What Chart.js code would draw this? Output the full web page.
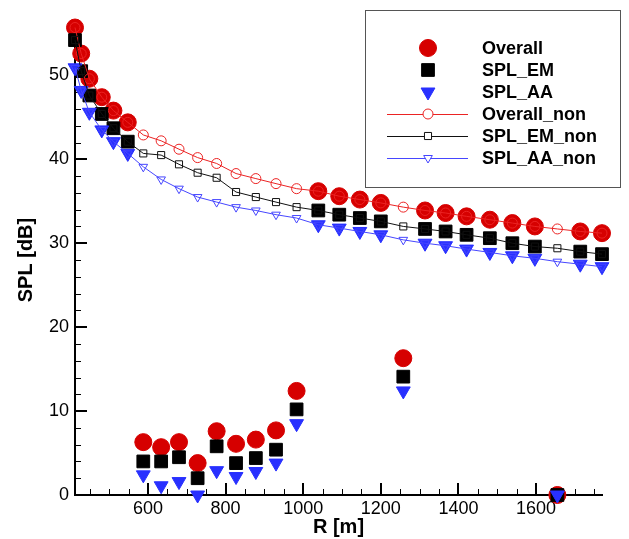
<!DOCTYPE html>
<html>
<head>
<meta charset="utf-8">
<script src="https://cdn.jsdelivr.net/npm/chart.js@4.4.0/dist/chart.umd.min.js"></script>
<style>
  html, body { margin: 0; padding: 0; background: #fff; }
  #wrap { width: 629px; height: 539px; position: relative; }
</style>
</head>
<body>
<div id="wrap"><canvas id="splChart"></canvas></div>
<script>
// distance R [m]
const rValues = [412, 428, 449, 481, 511, 548, 588, 634, 680, 728, 777, 827, 878, 930, 983,
                 1039, 1093, 1146, 1200, 1258, 1314, 1367, 1421, 1481, 1539, 1597, 1655, 1714, 1770];

// SPL [dB]
const overall = [55.7, 52.6, 49.6, 47.4, 45.8, 44.4, 6.3, 5.7, 6.3, 3.8, 7.6, 6.1, 6.6, 7.7, 12.4,
                 36.2, 35.6, 35.2, 34.8, 16.3, 33.9, 33.6, 33.2, 32.8, 32.4, 32.0, 0, 31.4, 31.2];
const splEM = [54.2, 50.5, 47.6, 45.4, 43.7, 42.1, 4.0, 4.0, 4.5, 2.0, 5.8, 3.8, 4.4, 5.4, 10.2,
               33.9, 33.4, 33.0, 32.6, 14.1, 31.7, 31.4, 31.0, 30.6, 30.0, 29.6, 0, 29.0, 28.7];
const splAA = [50.9, 48.2, 45.6, 43.5, 42.1, 40.7, 2.4, 1.1, 1.6, 0, 2.9, 2.2, 2.8, 3.8, 8.5,
               32.2, 31.8, 31.4, 31.0, 12.4, 30.0, 29.7, 29.3, 28.9, 28.5, 28.2, 0, 27.5, 27.2];

const overallNon = [55.7, 52.6, 49.6, 47.4, 45.8, 44.4, 42.9, 42.2, 41.2, 40.2, 39.5, 38.3, 37.7, 37.1, 36.5,
                    36.2, 35.6, 35.2, 34.8, 34.3, 33.9, 33.6, 33.2, 32.8, 32.4, 32.0, 31.7, 31.4, 31.2];
const splEMNon = [54.2, 50.5, 47.6, 45.4, 43.7, 42.1, 40.7, 40.5, 39.4, 38.4, 37.8, 36.1, 35.5, 34.9, 34.3,
                  33.9, 33.4, 33.0, 32.6, 32.0, 31.7, 31.4, 31.0, 30.6, 30.0, 29.6, 29.4, 29.0, 28.7];
const splAANon = [50.9, 48.2, 45.6, 43.5, 42.1, 40.7, 39.1, 37.6, 36.5, 35.5, 34.9, 34.3, 33.9, 33.4, 33.0,
                  32.2, 31.8, 31.4, 31.0, 30.4, 30.0, 29.7, 29.3, 28.9, 28.5, 28.2, 27.8, 27.5, 27.2];

const xTicks = [600, 800, 1000, 1200, 1400, 1600];
const yTicks = [0, 10, 20, 30, 40, 50];

const RED = 'rgb(214,0,0)', RED_LINE = 'rgb(235,35,35)';
const BLUE = 'rgb(40,48,255)', BLUE_LINE = 'rgb(70,70,255)';
const BLACK = '#000';

function toPoints(vals) {
    return vals.map((v, i) => ({ x: rValues[i], y: v }));
}

function filledSet(label, vals, color, style, radius, rotation, order) {
    return {
        label: label, data: toPoints(vals), showLine: false, order: order, clip: false,
        pointStyle: style, pointRadius: radius, pointRotation: rotation,
        pointBackgroundColor: color, pointBorderColor: color, pointBorderWidth: 1,
        borderColor: color, backgroundColor: color
    };
}

function openSet(label, vals, color, style, radius, rotation, order) {
    return {
        label: label, data: toPoints(vals), showLine: true, order: order, clip: false,
        borderColor: color, borderWidth: 1, tension: 0,
        pointStyle: style, pointRadius: radius, pointRotation: rotation,
        pointBackgroundColor: 'rgba(0,0,0,0)', pointBorderColor: color, pointBorderWidth: 1,
        backgroundColor: 'rgba(0,0,0,0)'
    };
}

const datasets = [
    filledSet('Overall', overall, RED, 'circle', 8.5, 0, 6),
    filledSet('SPL_EM', splEM, BLACK, 'rect', 9, 0, 5),
    filledSet('SPL_AA', splAA, BLUE, 'triangle', 8, 180, 4),
    openSet('Overall_non', overallNon, RED_LINE, 'circle', 5, 0, 3),
    openSet('SPL_EM_non', splEMNon, '#111', 'rect', 5, 0, 2),
    openSet('SPL_AA_non', splAANon, BLUE_LINE, 'triangle', 5, 180, 1)
];

// tick marks drawn inside the plot, like the original
const insideTicks = {
    id: 'insideTicks',
    beforeDatasetsDraw(chart) {
        const { ctx, chartArea: a, scales: { x, y } } = chart;
        ctx.save();
        ctx.strokeStyle = '#000';
        ctx.lineWidth = 1;
        ctx.beginPath();
        for (let v = Math.ceil(x.min / 50) * 50; v <= x.max; v += 50) {
            if (xTicks.includes(v)) continue;
            const px = Math.round(x.getPixelForValue(v)) + 0.5;
            ctx.moveTo(px, a.bottom); ctx.lineTo(px, a.bottom - 6);
        }
        for (let v = 2; v <= y.max; v += 2) {
            if (yTicks.includes(v)) continue;
            const py = Math.round(y.getPixelForValue(v)) + 0.5;
            ctx.moveTo(a.left, py); ctx.lineTo(a.left + 6, py);
        }
        ctx.stroke();
        ctx.lineWidth = 2;
        ctx.beginPath();
        xTicks.forEach(v => {
            const px = Math.round(x.getPixelForValue(v));
            ctx.moveTo(px, a.bottom); ctx.lineTo(px, a.bottom - 12);
        });
        yTicks.forEach(v => {
            if (v === 0) return;
            const py = Math.round(y.getPixelForValue(v));
            ctx.moveTo(a.left, py); ctx.lineTo(a.left + 12, py);
        });
        ctx.stroke();
        ctx.restore();
    }
};

// boxed legend in the upper right corner
const boxLegend = {
    id: 'boxLegend',
    afterDraw(chart) {
        const ctx = chart.ctx;
        const box = { x: 365.5, y: 10.5, w: 255, h: 177 };
        ctx.save();
        ctx.fillStyle = '#fff';
        ctx.fillRect(box.x, box.y, box.w, box.h);
        ctx.strokeStyle = '#555';
        ctx.lineWidth = 1;
        ctx.strokeRect(box.x, box.y, box.w, box.h);
        const markX = 428, textX = 482;
        ctx.font = 'bold 18px "Liberation Sans", Arial, sans-serif';
        ctx.textBaseline = 'middle';
        ctx.textAlign = 'left';
        chart.data.datasets.forEach((ds, i) => {
            const rowY = 48 + i * 22;
            if (ds.showLine) {
                ctx.strokeStyle = ds.borderColor;
                ctx.lineWidth = 1;
                ctx.beginPath();
                ctx.moveTo(387, rowY + 0.5); ctx.lineTo(468, rowY + 0.5);
                ctx.stroke();
                ctx.fillStyle = '#fff';
            } else {
                ctx.fillStyle = ds.pointBackgroundColor;
            }
            ctx.strokeStyle = ds.pointBorderColor;
            ctx.lineWidth = ds.pointBorderWidth;
            Chart.helpers.drawPoint(ctx, {
                pointStyle: ds.pointStyle, rotation: ds.pointRotation,
                radius: ds.pointRadius, borderWidth: ds.pointBorderWidth
            }, markX, rowY);
            ctx.fillStyle = '#000';
            ctx.fillText(ds.label, textX, rowY + 1);
        });
        ctx.restore();
    }
};

const ctx = document.getElementById('splChart').getContext('2d');
const tickFont = { family: '"Liberation Sans", Arial, sans-serif', size: 18 };
const titleFont = { family: '"Liberation Sans", Arial, sans-serif', size: 20, weight: 'bold' };

new Chart(ctx, {
    type: 'scatter',
    data: { datasets: datasets },
    options: {
        responsive: true,
        maintainAspectRatio: false,
        animation: false,
        events: [],
        layout: { padding: { top: 25, right: 27, left: 0, bottom: 0 } },
        plugins: {
            legend: { display: false },
            tooltip: { enabled: false }
        },
        scales: {
            x: {
                type: 'linear', min: 412, max: 1770,
                grid: { display: false, drawTicks: false },
                border: { display: true, color: '#000', width: 2 },
                ticks: { color: '#000', font: tickFont, padding: 3, includeBounds: false,
                         callback: v => String(v) },
                afterBuildTicks: s => { s.ticks = xTicks.map(v => ({ value: v })); },
                afterFit: s => { s.height = 44; },
                title: { display: true, text: 'R [m]', color: '#000', font: titleFont, padding: { top: 0, bottom: 0 } }
            },
            y: {
                type: 'linear', min: 0, max: 56,
                grid: { display: false, drawTicks: false },
                border: { display: true, color: '#000', width: 2 },
                ticks: { color: '#000', font: tickFont, padding: 6, includeBounds: false,
                         callback: v => String(v) },
                afterBuildTicks: s => { s.ticks = yTicks.map(v => ({ value: v })); },
                afterFit: s => { s.width = 75; },
                title: { display: true, text: 'SPL [dB]', color: '#000', font: titleFont, padding: { top: 14, bottom: 0 } }
            }
        }
    },
    plugins: [insideTicks, boxLegend]
});
</script>
</body>
</html>
